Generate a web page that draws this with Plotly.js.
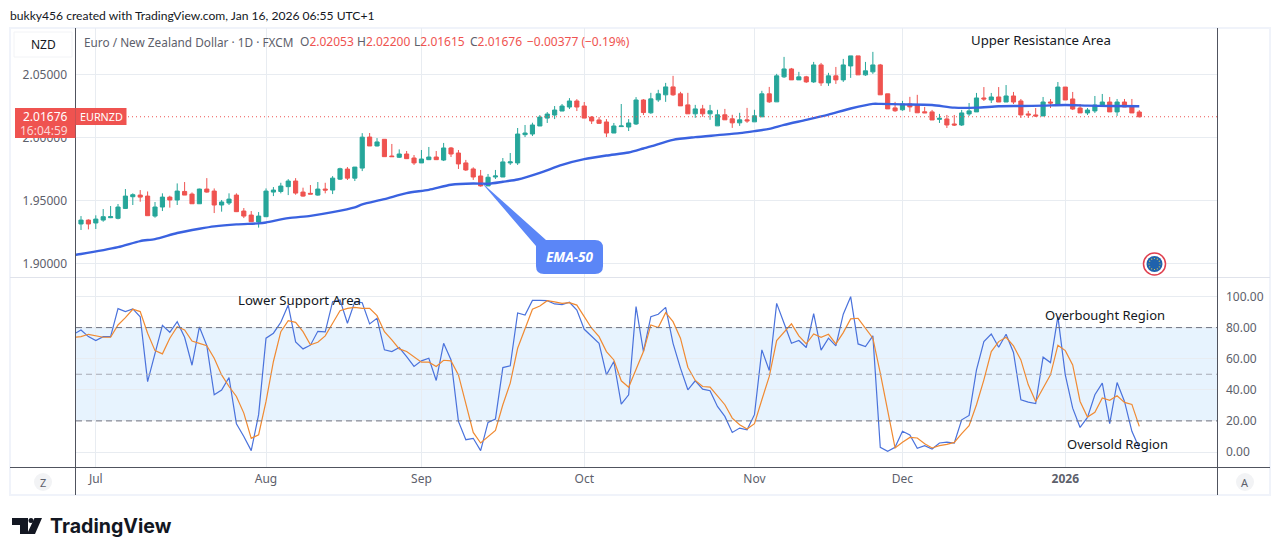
<!DOCTYPE html>
<html>
<head>
<meta charset="utf-8">
<script src="https://cdn.plot.ly/plotly-3.0.1.min.js"></script>
<style>html,body{margin:0;padding:0;background:#fff;}#chart{width:1281px;height:556px;}</style>
</head>
<body>
<div id="chart"></div>
<script>
const opens = [
1.9314,1.9345,1.9322,1.9345,1.9364,1.9359,1.9438,1.9531,1.9544,1.9536,
1.9377,1.9449,1.9528,1.9505,1.9573,1.9552,1.9475,1.9592,1.9576,1.9465,
1.9481,1.9544,1.9417,1.9385,1.9330,1.9372,1.9568,1.9573,1.9611,1.9656,
1.9568,1.9558,1.9544,1.9592,1.9584,1.9671,1.9751,1.9679,1.9759,2.0006,
1.9935,1.9988,1.9855,1.9845,1.9871,1.9839,1.9800,1.9826,1.9847,1.9823,
1.9919,1.9879,1.9800,1.9752,1.9696,1.9617,1.9688,1.9688,1.9800,1.9800,
2.0025,2.0030,2.0094,2.0157,2.0181,2.0213,2.0245,2.0293,2.0253,2.0165,
2.0142,2.0126,2.0038,2.0089,2.0086,2.0110,2.0301,2.0199,2.0302,2.0342,
2.0405,2.0350,2.0262,2.0191,2.0230,2.0191,2.0095,2.0183,2.0151,2.0119,
2.0143,2.0127,2.0167,2.0350,2.0286,2.0485,2.0548,2.0461,2.0485,2.0445,
2.0580,2.0437,2.0493,2.0461,2.0572,2.0652,2.0501,2.0525,2.0580,2.0350,
2.0238,2.0223,2.0270,2.0262,2.0207,2.0206,2.0147,2.0150,2.0110,2.0102,
2.0190,2.0206,2.0317,2.0301,2.0325,2.0285,2.0333,2.0293,2.0190,2.0182,
2.0174,2.0285,2.0269,2.0404,2.0309,2.0237,2.0198,2.0214,2.0253,2.0285,
2.0206,2.0285,2.0253,2.02053];
const highs = [
1.9377,1.9351,1.9383,1.9433,1.9457,1.9473,1.9592,1.9558,1.9584,1.9573,
1.9489,1.9558,1.9539,1.9637,1.9648,1.9565,1.9595,1.9679,1.9597,1.9505,
1.9558,1.9558,1.9441,1.9417,1.9409,1.9597,1.9608,1.9642,1.9671,1.9679,
1.9603,1.9624,1.9648,1.9642,1.9695,1.9762,1.9767,1.9767,2.0037,2.0038,
1.9998,1.9988,1.9951,1.9908,1.9895,1.9863,1.9903,1.9927,1.9895,1.9959,
1.9927,1.9903,1.9824,1.9765,1.9744,1.9712,1.9744,1.9839,1.9879,2.0078,
2.0102,2.0120,2.0181,2.0205,2.0253,2.0269,2.0316,2.0308,2.0285,2.0173,
2.0165,2.0149,2.0118,2.0269,2.0149,2.0324,2.0308,2.0358,2.0382,2.0437,
2.0493,2.0366,2.0358,2.0262,2.0262,2.0262,2.0223,2.0230,2.0183,2.0199,
2.0238,2.0223,2.0374,2.0405,2.0509,2.0644,2.0556,2.0525,2.0493,2.0604,
2.0596,2.0517,2.0564,2.0628,2.0652,2.0652,2.0604,2.0684,2.0588,2.0350,
2.0286,2.0294,2.0326,2.0342,2.0246,2.0222,2.0190,2.0182,2.0182,2.0222,
2.0277,2.0357,2.0404,2.0357,2.0404,2.0420,2.0365,2.0309,2.0214,2.0237,
2.0325,2.0309,2.0444,2.0404,2.0365,2.0269,2.0237,2.0333,2.0349,2.0325,
2.0309,2.0309,2.0309,2.0220];
const lows = [
1.9266,1.9271,1.9274,1.9332,1.9361,1.9351,1.9433,1.9465,1.9491,1.9380,
1.9364,1.9417,1.9444,1.9465,1.9544,1.9475,1.9473,1.9563,1.9401,1.9412,
1.9465,1.9409,1.9361,1.9330,1.9285,1.9369,1.9536,1.9558,1.9544,1.9547,
1.9531,1.9552,1.9539,1.9558,1.9552,1.9664,1.9664,1.9656,1.9735,1.9935,
1.9932,1.9850,1.9850,1.9839,1.9831,1.9784,1.9800,1.9823,1.9823,1.9815,
1.9847,1.9752,1.9736,1.9665,1.9611,1.9617,1.9672,1.9688,1.9784,1.9784,
2.0006,2.0014,2.0094,2.0118,2.0149,2.0213,2.0229,2.0213,2.0157,2.0110,
2.0110,2.0006,2.0038,2.0089,2.0054,2.0102,2.0181,2.0191,2.0286,2.0286,
2.0334,2.0254,2.0191,2.0159,2.0167,2.0143,2.0095,2.0143,2.0079,2.0095,
2.0119,2.0127,2.0167,2.0278,2.0286,2.0477,2.0461,2.0461,2.0437,2.0437,
2.0413,2.0413,2.0429,2.0445,2.0477,2.0501,2.0493,2.0509,2.0342,2.0230,
2.0207,2.0215,2.0207,2.0199,2.0199,2.0142,2.0118,2.0078,2.0094,2.0094,
2.0174,2.0206,2.0293,2.0277,2.0285,2.0285,2.0269,2.0158,2.0158,2.0166,
2.0174,2.0237,2.0269,2.0301,2.0221,2.0198,2.0182,2.0198,2.0253,2.0206,
2.0174,2.0245,2.0198,2.01615];
const closes = [
1.9345,1.9314,1.9353,1.9372,1.9372,1.9449,1.9536,1.9547,1.9528,1.9380,
1.9449,1.9528,1.9505,1.9576,1.9544,1.9475,1.9592,1.9568,1.9465,1.9489,
1.9512,1.9412,1.9377,1.9332,1.9377,1.9576,1.9584,1.9616,1.9656,1.9560,
1.9536,1.9552,1.9592,1.9584,1.9679,1.9754,1.9679,1.9767,2.0005,1.9935,
1.9967,1.9850,1.9850,1.9871,1.9834,1.9800,1.9831,1.9847,1.9826,1.9919,
1.9871,1.9792,1.9744,1.9688,1.9617,1.9686,1.9696,1.9808,1.9808,2.0030,
2.0038,2.0102,2.0165,2.0189,2.0221,2.0253,2.0293,2.0245,2.0157,2.0134,
2.0115,2.0038,2.0094,2.0094,2.0118,2.0301,2.0201,2.0310,2.0350,2.0405,
2.0342,2.0254,2.0191,2.0230,2.0191,2.0215,2.0183,2.0143,2.0119,2.0143,
2.0135,2.0175,2.0350,2.0286,2.0493,2.0548,2.0461,2.0485,2.0445,2.0580,
2.0437,2.0493,2.0461,2.0580,2.0652,2.0501,2.0533,2.0580,2.0342,2.0230,
2.0215,2.0270,2.0246,2.0199,2.0199,2.0142,2.0155,2.0102,2.0102,2.0198,
2.0214,2.0317,2.0309,2.0325,2.0285,2.0333,2.0285,2.0182,2.0182,2.0174,
2.0285,2.0277,2.0404,2.0301,2.0229,2.0198,2.0221,2.0261,2.0285,2.0206,
2.0285,2.0245,2.0198,2.01676];

const emaBars = [-1,0,5,8,10,13,16,18,21,24,25,28,31,34,37,38,41,44,47,50,53,55,57,59,62,65,68,71,74,76,77,80,83,86,89,91,93,95,98,101,104,107,108,111,115,118,121,124,127,130,133,136,139,143];
const emaValues = [1.9066,1.9075,1.9130,1.9178,1.9194,1.9242,1.9276,1.9295,1.9311,1.9319,1.9326,1.9361,1.9379,1.9408,1.9446,1.9470,1.9512,1.9560,1.9586,1.9626,1.9636,1.9634,1.9650,1.9668,1.9721,1.9785,1.9830,1.9859,1.9883,1.9915,1.9931,1.9984,2.0005,2.0021,2.0037,2.0053,2.0071,2.0103,2.0143,2.0185,2.0233,2.0270,2.0270,2.0266,2.0261,2.0240,2.0240,2.0251,2.0253,2.0256,2.0261,2.0256,2.0253,2.0251];

const stochK = [75.7,
78.5,74.2,71.7,74.2,74.2,92.2,90.3,92,87,45.3,
62.5,81.5,77,83.8,73.8,55.8,80.4,68.4,36.8,39.8,
47.9,18.2,10,0.9,24,73.2,76.4,83.4,94.5,70.8,
66.3,68.7,77.6,77.2,96.7,97.8,82.8,96.7,96,82.4,
86,65.7,64.6,67.2,61.4,55,58.6,60.3,46,69.9,
59.2,19.7,7.9,8.8,0.9,19,21.2,54.3,55.4,89.4,
88.1,97.5,97.5,97.3,95.2,94.8,96.3,91.3,78.9,74.7,
69.9,49.6,58.2,30.8,36.8,93.5,64.6,87,88.6,93,
69.9,53.9,40,45.8,40.4,39.4,29.3,22.9,12.6,15.4,
14.3,24,65.7,52.4,95.6,82.8,69.9,71.7,67.2,89,
65.5,73.2,68.2,88.6,99.9,69.5,67.8,74.7,3,0.4,
3,13.3,10.9,2.4,4.1,1.9,5.8,6.4,5.8,20.7,
23.5,52.8,71,75.9,67.4,75.7,64,33.6,32.1,31.2,
61,57.5,87.1,49.6,28.2,15.8,22.2,36.8,44.3,18.2,
44.7,32.5,13.3,2.6];
const stochD = [73.8,
74.2,75.7,74.7,73.8,73.8,81.7,86.4,91.8,90.3,76.4,
65.2,63.1,73.2,80.6,78.5,71.4,69.9,68.4,60.3,49.6,
42.1,35.7,25,8.8,11.1,32.5,58.2,77.4,84.5,83.4,
77.4,68.9,70.6,74.7,82.8,90.9,92.4,93,92.4,92.4,
87.7,77.4,72.1,66.3,64.6,61,57.8,57.8,55,59,
58.6,49.6,30.4,12.6,5.8,9.6,13.9,30.4,44.3,66.7,
78.9,91.8,93.9,97.3,96.5,95.6,96,94.5,87.1,79.6,
74.2,64.6,59.2,45.8,41.7,53.3,64.6,81.7,80,89.6,
83.8,73.2,54.5,46,42.1,41.7,35.7,30.4,21.8,17.5,
14.8,18.2,33.6,48.6,71.7,76.8,82.4,74.7,69.5,75.9,
73.8,75.7,69.5,76.8,85.6,86,79.6,73.2,50.7,26.1,
2.6,6.2,9.4,9,5.3,2.6,4.1,4.9,6.2,11.8,
16.9,30.4,46.4,64.6,71,73.8,68.2,59.2,43.2,32.5,
41.1,49.6,68.7,65.2,56,32.5,22.5,25.5,34.7,33.2,
36.1,31.9,30.6,16.5];

const monthBars = [2,25,46,68,91,111,133];
const monthLabels = ['Jul','Aug','Sep','Oct','Nov','Dec','<b>2026</b>'];
const priceTicks = [1.90,1.95,2.00,2.05];
const priceLabels = ['1.90000','1.95000','2.00000','2.05000'];
const stochTicks = [0,20,40,60,80,100];
const stochLabels = ['0.00','20.00','40.00','60.00','80.00','100.00'];
const lastClose = 2.01676;

const W=1281,H=556;
const px=x=>x/W, py=y=>1-y/H;
const UP='#26a69a',DOWN='#ef5350',GRID='#e8ecf1',AXIS='#50535e',FONT='"Noto Sans", sans-serif',TXT='#5d606b';

const barIdx=opens.map((_,i)=>i);
const stochIdx=stochK.map((_,i)=>i-1);

const traces=[
 {type:'candlestick',x:barIdx,open:opens,high:highs,low:lows,close:closes,xaxis:'x',yaxis:'y',
  increasing:{line:{color:UP,width:1},fillcolor:UP},decreasing:{line:{color:DOWN,width:1},fillcolor:DOWN},
  whiskerwidth:0,hoverinfo:'skip',showlegend:false},
 {type:'scatter',mode:'lines',x:emaBars,y:emaValues,xaxis:'x',yaxis:'y',line:{color:'#3a62e0',width:2.4,shape:'spline',smoothing:0.7},hoverinfo:'skip',showlegend:false},
 {type:'scatter',mode:'lines',x:stochIdx,y:stochK,xaxis:'x2',yaxis:'y2',line:{color:'#4a72dc',width:1.2},hoverinfo:'skip',showlegend:false},
 {type:'scatter',mode:'lines',x:stochIdx,y:stochD,xaxis:'x2',yaxis:'y2',line:{color:'#f08a32',width:1.2},hoverinfo:'skip',showlegend:false}
];

const paperLine=(x0,y0,x1,y1,color,width)=>({type:'line',xref:'paper',yref:'paper',x0:px(x0),y0:py(y0),x1:px(x1),y1:py(y1),line:{color:color,width:width||1}});
const P=(x,y)=>px(x).toFixed(5)+','+py(y).toFixed(5);

const shapes=[
 {type:'rect',xref:'paper',yref:'y2',x0:px(76),x1:px(1217),y0:20,y1:80,fillcolor:'rgba(33,150,243,0.11)',line:{width:0},layer:'below'},
 {type:'line',xref:'paper',yref:'y2',x0:px(76),x1:px(1217),y0:80,y1:80,line:{color:'#6f7280',width:1,dash:'6px,4px'}},
 {type:'line',xref:'paper',yref:'y2',x0:px(76),x1:px(1217),y0:50,y1:50,line:{color:'#a8abb5',width:1,dash:'6px,4px'}},
 {type:'line',xref:'paper',yref:'y2',x0:px(76),x1:px(1217),y0:20,y1:20,line:{color:'#6f7280',width:1,dash:'6px,4px'}},
 {type:'line',xref:'paper',yref:'y',x0:px(76),x1:px(1217),y0:lastClose,y1:lastClose,line:{color:DOWN,width:1,dash:'1px,3px'}},
 {type:'rect',xref:'paper',yref:'paper',x0:px(10),x1:px(1270),y0:py(495),y1:py(28),line:{color:'#f0f3fa',width:2},layer:'below'},
 paperLine(76,277.5,1270,277.5,'#e0e3eb',1),
 paperLine(10,277.5,75,277.5,'#e0e3eb',1),
 paperLine(75.5,28,75.5,495,AXIS,1),
 paperLine(1217.5,28,1217.5,495,AXIS,1),
 paperLine(10,467.5,1270,467.5,AXIS,1),
 {type:'rect',xref:'paper',yref:'paper',x0:px(14),x1:px(72),y0:py(57),y1:py(32),line:{color:'#f2f3f6',width:1},fillcolor:'#fff'},
 {type:'rect',xref:'paper',yref:'paper',x0:px(15),x1:px(75.5),y0:py(138),y1:py(108),fillcolor:DOWN,line:{width:0}},
 {type:'rect',xref:'paper',yref:'paper',x0:px(75.5),x1:px(126.5),y0:py(125),y1:py(108),fillcolor:DOWN,line:{width:0}},
 // EMA-50 callout balloon
 {type:'path',xref:'paper',yref:'paper',fillcolor:'#5b86f7',line:{width:0},
  path:'M'+P(481,182)+' L'+P(546,240)+' L'+P(595,240)+' Q'+P(603,240)+' '+P(603,248)+' L'+P(603,266)+' Q'+P(603,274)+' '+P(595,274)+' L'+P(544,274)+' Q'+P(536,274)+' '+P(536,266)+' L'+P(536,246)+' Z'},
 // EU flag badge
 {type:'circle',xref:'paper',yref:'paper',x0:px(1143.5),x1:px(1165.5),y0:py(275),y1:py(253),fillcolor:'#fff',line:{color:'#e0404f',width:1.5}},
 {type:'circle',xref:'paper',yref:'paper',x0:px(1146.5),x1:px(1162.5),y0:py(272),y1:py(256),fillcolor:'#1f62ad',line:{width:0}},
 // Z and A buttons
 {type:'circle',xref:'paper',yref:'paper',x0:px(34),x1:px(52),y0:py(491),y1:py(473),fillcolor:'#f2f3f5',line:{width:0}},
 {type:'circle',xref:'paper',yref:'paper',x0:px(1236),x1:px(1254),y0:py(491),y1:py(473),fillcolor:'#f2f3f5',line:{width:0}},
 // TradingView logo mark
 {type:'path',xref:'paper',yref:'paper',fillcolor:'#131722',line:{width:0},path:'M'+P(12,518)+' L'+P(28,518)+' L'+P(28,534)+' L'+P(20,534)+' L'+P(20,525)+' L'+P(12,525)+' Z'},
 {type:'circle',xref:'paper',yref:'paper',x0:px(28.5),x1:px(33.5),y0:py(523),y1:py(518),fillcolor:'#131722',line:{width:0}},
 {type:'path',xref:'paper',yref:'paper',fillcolor:'#131722',line:{width:0},path:'M'+P(34.5,518)+' L'+P(42,518)+' L'+P(35,534)+' L'+P(27,534)+' Z'}
];
// stars of the EU flag badge
const starOffsets=[[0,-5.5],[2.8,-4.8],[4.8,-2.8],[5.5,0],[4.8,2.8],[2.8,4.8],[0,5.5],[-2.8,4.8],[-4.8,2.8],[-5.5,0],[-4.8,-2.8],[-2.8,-4.8]];
starOffsets.forEach(o=>shapes.push({type:'circle',xref:'paper',yref:'paper',x0:px(1154.5+o[0]-0.6),x1:px(1154.5+o[0]+0.6),y0:py(264+o[1]+0.6),y1:py(264+o[1]-0.6),fillcolor:'#e8d24a',line:{width:0}}));

const note=(x,y,text,size,color,anchor,extra)=>Object.assign({xref:'paper',yref:'paper',x:px(x),y:py(y),text:text,showarrow:false,xanchor:anchor||'left',yanchor:'middle',align:anchor||'left',font:{family:FONT,size:size,color:color},borderpad:0,borderwidth:0},extra||{});
const R=s=>'<span style="color:#ef5350">'+s+'</span>';
const LATO='Lato, sans-serif';
const annotations=[
 note(10,15,'bukky456 created with TradingView.com, Jan 16, 2026 06:55 UTC+1',12.1,'#131722',null,{font:{family:LATO,size:12.1,color:'#131722'}}),
 note(84,42,'Euro / New Zealand Dollar · 1D · FXCM',11.8,TXT),
 note(300,42,'O'+R('2.02053'),12,TXT),
 note(357,42,'H'+R('2.02200'),12,TXT),
 note(414,42,'L'+R('2.01615'),12,TXT),
 note(470,42,'C'+R('2.01676'),12,TXT),
 note(527,42,R('−0.00377 (−0.19%)'),12,TXT),
 note(43,45,'NZD',12,'#131722','center'),
 note(68,116.5,'2.01676',12,'#ffffff','right'),
 note(68,130.5,'16:04:59',12,'#fbd5d5','right'),
 note(80,116.5,'EURNZD',10.8,'#ffffff'),
 note(971,40,'Upper Resistance Area',13.2,'#131722'),
 note(238,300,'Lower Support Area',13.2,'#131722'),
 note(1045,315,'Overbought Region',13,'#131722'),
 note(1067,444,'Oversold Region',13,'#131722'),
 note(569.5,257,'<b><i>EMA-50</i></b>',13.5,'#ffffff','center'),
 note(43,482,'Z',11,TXT,'center'),
 note(1245,482,'A',11,TXT,'center'),
 {xref:'paper',yref:'paper',x:px(48),y:py(526),text:'<b>TradingView</b>',showarrow:false,xanchor:'left',yanchor:'middle',font:{family:'Inter, sans-serif',size:19.6,color:'#131722'}}
];

const xRange=[-0.676,153.5];
const layout={
 width:W,height:H,autosize:false,margin:{l:0,r:0,t:0,b:0,pad:0},
 paper_bgcolor:'#fff',plot_bgcolor:'#fff',showlegend:false,hovermode:false,dragmode:false,
 boxgap:0.2,
 font:{family:FONT,size:12,color:TXT},
 xaxis:{domain:[px(76),px(1217)],range:xRange,anchor:'y',rangeslider:{visible:false},tickmode:'array',tickvals:monthBars,ticktext:monthLabels,showticklabels:false,ticks:'',showgrid:true,gridcolor:GRID,gridwidth:1,zeroline:false,showline:false},
 yaxis:{domain:[py(277),py(28)],range:[1.8892,2.0874],anchor:'x',side:'left',tickmode:'array',tickvals:priceTicks,ticktext:priceLabels,ticks:'',ticklabelstandoff:8,showgrid:true,gridcolor:GRID,gridwidth:1,zeroline:false,showline:false,tickfont:{family:FONT,size:12,color:TXT}},
 xaxis2:{domain:[px(76),px(1217)],range:xRange,anchor:'y2',tickmode:'array',tickvals:monthBars,ticktext:monthLabels,ticks:'',ticklabelstandoff:3,showgrid:true,gridcolor:GRID,gridwidth:1,zeroline:false,showline:false,tickangle:0,tickfont:{family:FONT,size:12,color:TXT}},
 yaxis2:{domain:[py(467),py(278)],range:[-9.65,111.9],anchor:'x2',side:'right',tickmode:'array',tickvals:stochTicks,ticktext:stochLabels,ticks:'',ticklabelstandoff:8,showgrid:true,gridcolor:GRID,gridwidth:1,zeroline:false,showline:false,tickfont:{family:FONT,size:12,color:TXT}},
 shapes:shapes,annotations:annotations
};
Plotly.newPlot('chart',traces,layout,{displayModeBar:false,staticPlot:true});
</script>
</body>
</html>
